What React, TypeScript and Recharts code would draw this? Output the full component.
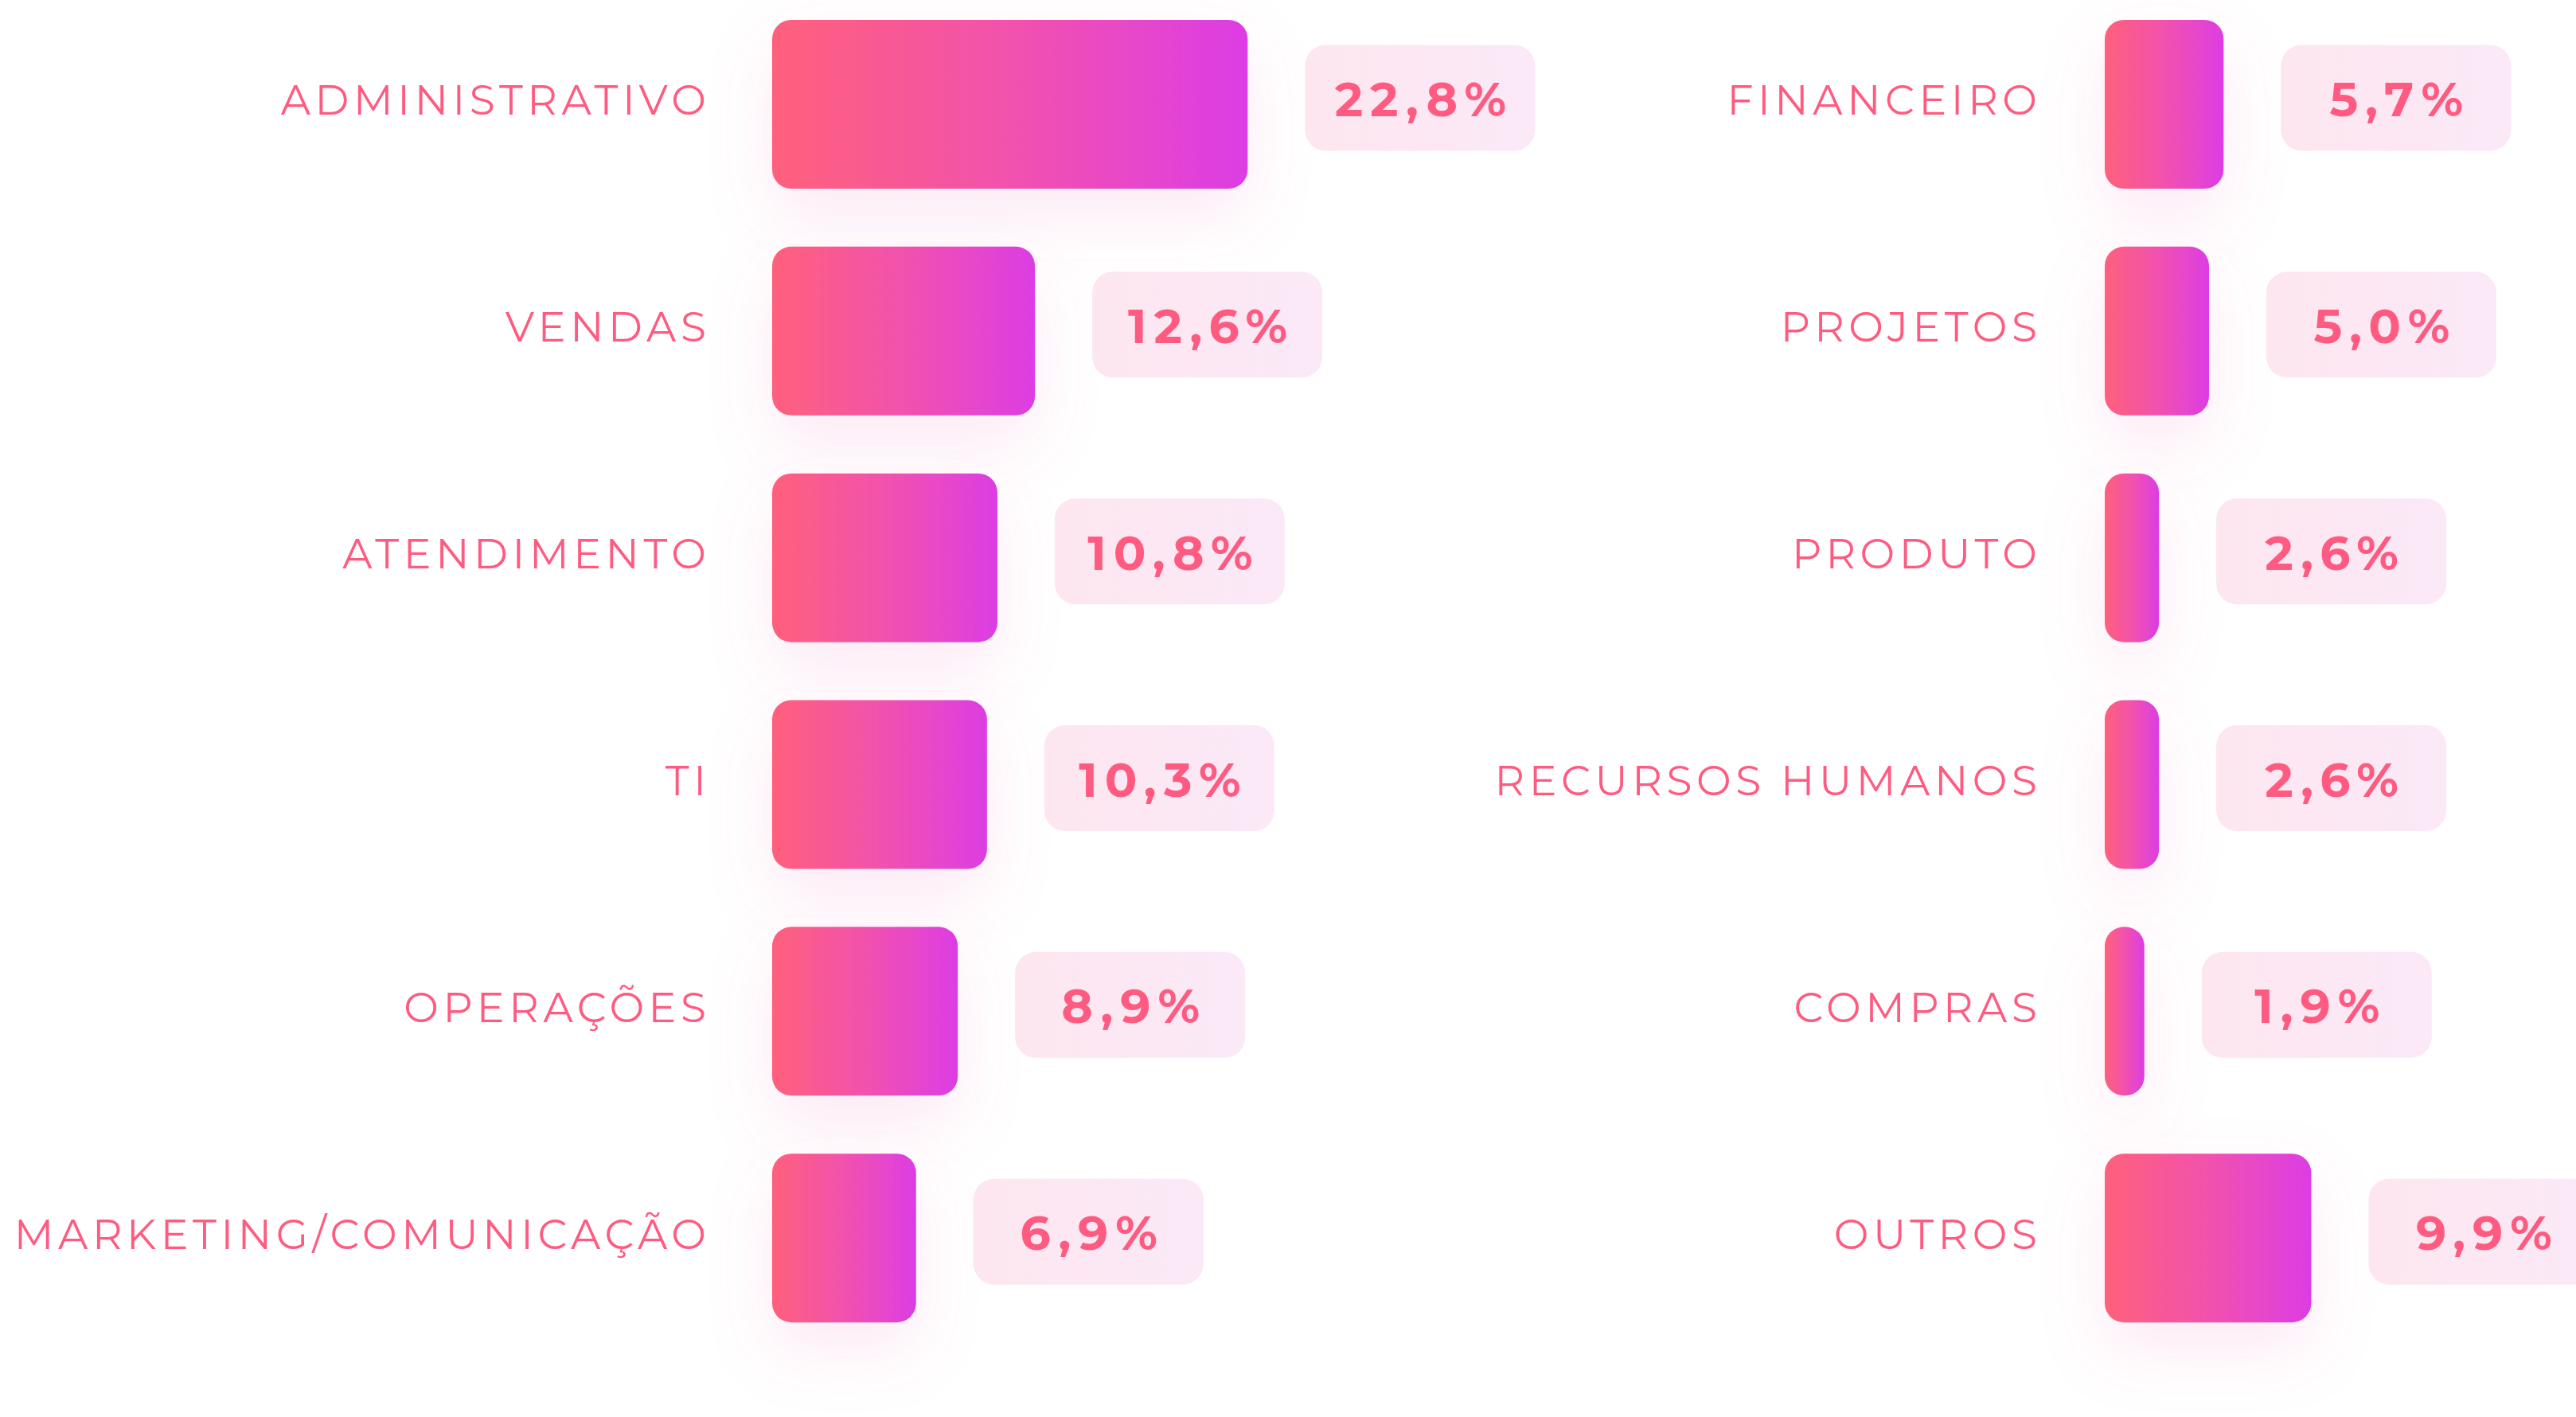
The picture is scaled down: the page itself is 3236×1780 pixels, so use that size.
import React from 'react';
import { BarChart, Bar, XAxis, YAxis, LabelList } from 'recharts';

const leftCategories = ['ADMINISTRATIVO', 'VENDAS', 'ATENDIMENTO', 'TI', 'OPERAÇÕES', 'MARKETING/COMUNICAÇÃO'];
const leftValues = [22.8, 12.6, 10.8, 10.3, 8.9, 6.9];
const rightCategories = ['FINANCEIRO', 'PROJETOS', 'PRODUTO', 'RECURSOS HUMANOS', 'COMPRAS', 'OUTROS'];
const rightValues = [5.7, 5.0, 2.6, 2.6, 1.9, 9.9];

// layout
const PX_PER_PCT = 26.2;
const PLOT_H = 1709;
const BOTTOM_PAD = 90;
const BAR_H = 212;
const PINK = '#ff5b80';
const FONT = "Montserrat, 'Open Sans', sans-serif";
const LABEL_SPACING = 5.6;

const fmt = (v: number) => v.toFixed(1).replace('.', ',') + '%';

function CategoryTick(props: any) {
  const { x, y, payload } = props;
  return (
    <text
      x={x + LABEL_SPACING}
      y={y}
      dy={13}
      textAnchor="end"
      fill={PINK}
      fontSize={52}
      fontFamily={FONT}
      letterSpacing={LABEL_SPACING}
    >
      {payload.value}
    </text>
  );
}

function GlowBar(props: any) {
  const { x, y, width, height, glowId, gradId } = props;
  if (!width || width <= 0) return null;
  const r = Math.min(24, width / 2, height / 2);
  return (
    <rect x={x} y={y} width={width} height={height} rx={r} ry={r} fill={`url(#${gradId})`} filter={`url(#${glowId})`} />
  );
}

function ValuePill(props: any) {
  const { x, y, width, height, value } = props;
  const cy = y + height / 2;
  const px = x + width + 72;
  const pw = 289;
  const ph = 133;
  return (
    <g>
      <rect x={px} y={cy - 8 - ph / 2} width={pw} height={ph} rx={26} ry={26} fill="url(#pillGrad)" />
      <text
        x={px + pw / 2 + 5}
        y={cy}
        dy={15}
        textAnchor="middle"
        fill={PINK}
        fontSize={60}
        fontWeight={700}
        fontFamily={FONT}
        letterSpacing={9}
      >
        {fmt(Number(value))}
      </text>
    </g>
  );
}

function Panel({
  id,
  categories,
  values,
  left,
  width,
  axisWidth,
  tickMargin,
}: {
  id: string;
  categories: string[];
  values: number[];
  left: number;
  width: number;
  axisWidth: number;
  tickMargin: number;
}) {
  const data = categories.map((name, i) => ({ name, value: values[i] }));
  const domainMax = (width - axisWidth) / PX_PER_PCT;
  const gradId = `barGrad-${id}`;
  const glowId = `glow-${id}`;
  return (
    <div style={{ position: 'absolute', left, top: -11 }}>
      <BarChart
        width={width}
        height={PLOT_H + BOTTOM_PAD}
        data={data}
        layout="vertical"
        margin={{ top: 0, right: 0, bottom: BOTTOM_PAD, left: 0 }}
      >
        <defs>
          <linearGradient id={gradId} x1="0" y1="0" x2="1" y2="0">
            <stop offset="0%" stopColor="#ff607c" />
            <stop offset="55%" stopColor="#f050b2" />
            <stop offset="100%" stopColor="#dc3de4" />
          </linearGradient>
          <linearGradient id="pillGrad" x1="0" y1="0" x2="1" y2="0">
            <stop offset="0%" stopColor="#fde6ef" />
            <stop offset="100%" stopColor="#fbe9f8" />
          </linearGradient>
          <filter id={glowId} filterUnits="userSpaceOnUse" x={-400} y={-400} width={4000} height={2600}>
            <feDropShadow dx={0} dy={34} stdDeviation={40} floodColor="#f06ab8" floodOpacity={0.15} />
          </filter>
        </defs>
        <XAxis type="number" hide domain={[0, domainMax]} />
        <YAxis
          type="category"
          dataKey="name"
          width={axisWidth}
          axisLine={false}
          tickLine={false}
          tickSize={0}
          tickMargin={tickMargin}
          tick={<CategoryTick />}
          interval={0}
        />
        <Bar
          dataKey="value"
          barSize={BAR_H}
          isAnimationActive={false}
          shape={(p: any) => <GlowBar {...p} gradId={gradId} glowId={glowId} />}
        >
          <LabelList dataKey="value" content={(p: any) => <ValuePill {...p} />} />
        </Bar>
      </BarChart>
    </div>
  );
}

export default function App() {
  return (
    <div style={{ position: 'absolute', left: 0, top: 0, width: 3236, height: 1780, overflow: 'hidden', background: '#fff' }}>
      <Panel id="l" categories={leftCategories} values={leftValues} left={0} width={2000} axisWidth={970} tickMargin={83} />
      <Panel id="r" categories={rightCategories} values={rightValues} left={1700} width={1536} axisWidth={944} tickMargin={85} />
    </div>
  );
}
